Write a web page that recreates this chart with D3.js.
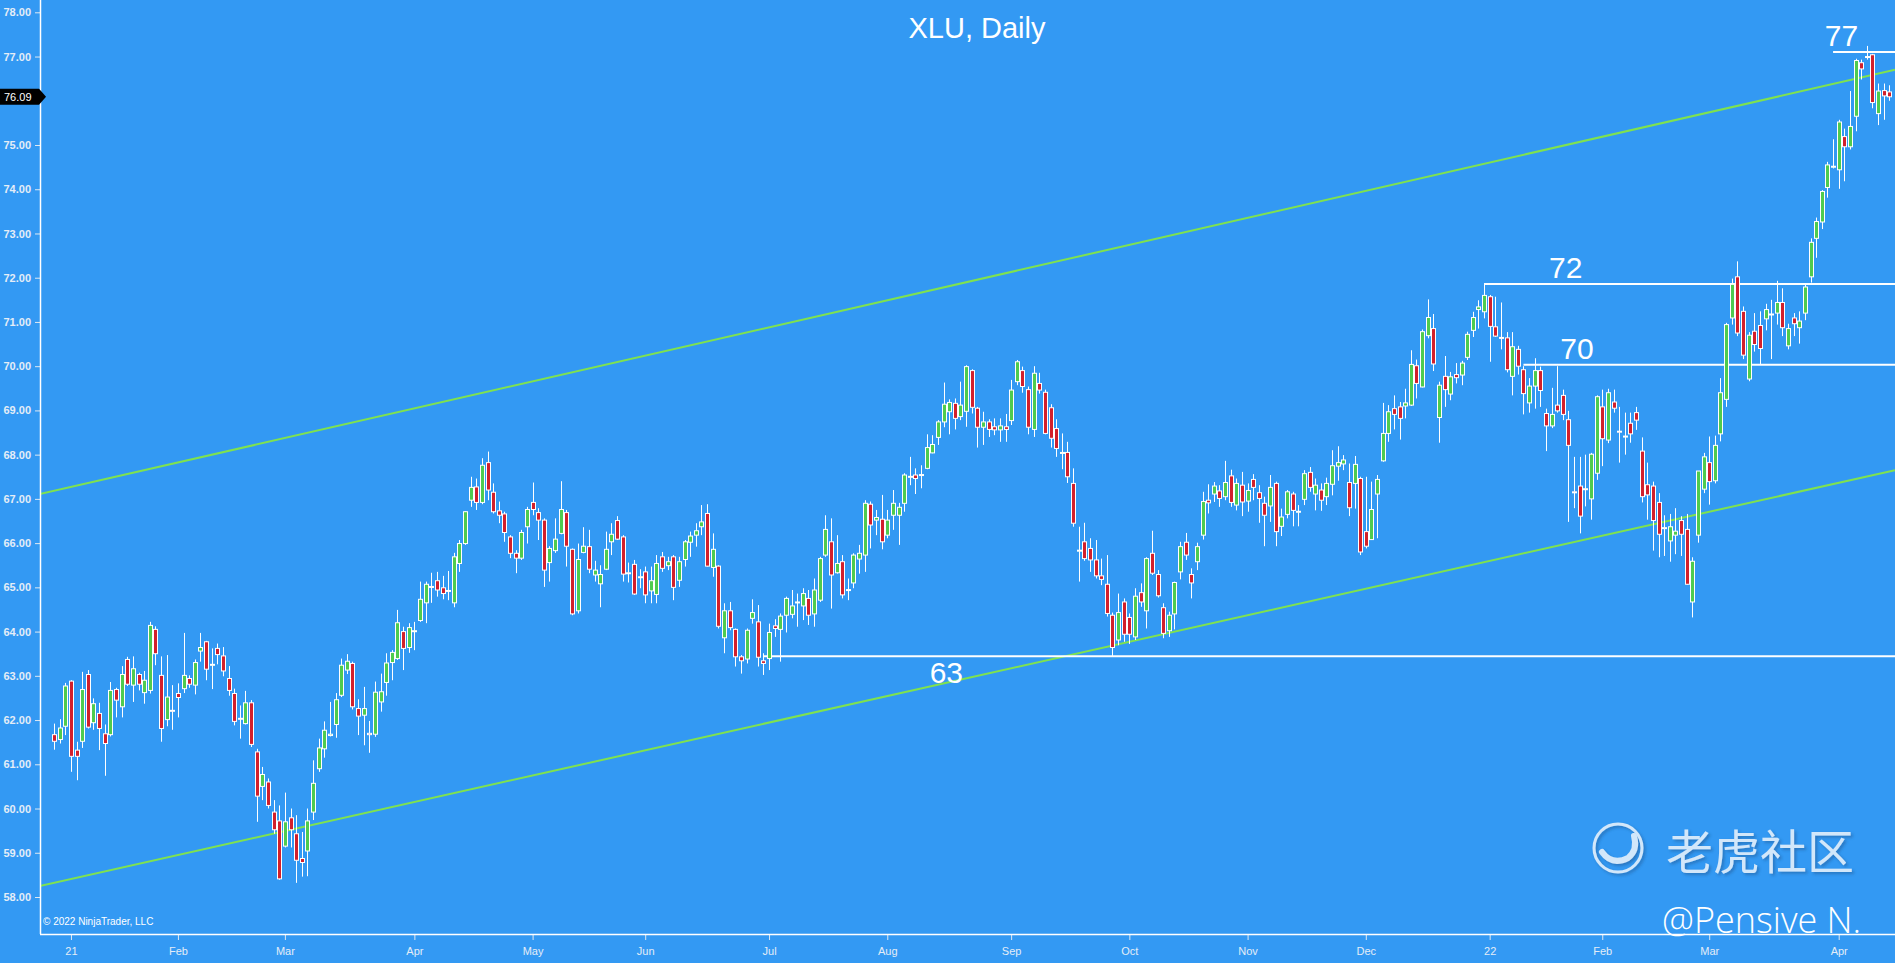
<!doctype html>
<html lang="en">
<head>
<meta charset="utf-8">
<style>
  html, body { margin: 0; padding: 0; background: #3399f3; overflow: hidden; }
  svg { display: block; }
  .ylab { font-family: "Liberation Sans", Arial, sans-serif; font-weight: bold; font-size: 11px; fill: #e4edf7; }
  .xlab { font-family: "Liberation Sans Narrow", "Arial Narrow", "Liberation Sans", sans-serif; font-size: 11px; fill: #e4edf7; }
  .lvl { font-family: "Liberation Sans", Arial, sans-serif; font-size: 30px; fill: #ffffff; }
</style>
</head>
<body>
<script src="https://d3js.org/d3.v7.min.js"></script>
<div id="chart"></div>
<script>
// XLU daily bars, 29 Dec 2020 .. 14 Apr 2022 (one entry per trading day)
var open = [61.67,61.56,61.86,62.88,61.32,61.52,63.03,61.94,62.15,61.69,61.67,62.69,62.30,63.37,62.79,63.03,62.62,62.67,64.05,63.01,
  62.01,62.22,62.60,62.71,62.94,62.79,63.56,63.77,63.24,63.62,63.45,62.94,62.60,62.02,61.92,62.39,61.28,60.50,60.60,59.92,
  59.72,59.15,59.79,59.43,58.87,59.04,59.92,60.90,61.35,61.65,61.90,62.56,63.13,63.28,62.26,62.11,61.70,61.68,62.41,62.85,
  63.30,63.39,64.00,63.64,64.00,64.25,64.65,65.00,65.15,64.99,64.93,64.65,65.54,65.99,66.97,67.27,66.92,67.82,67.15,66.73,
  66.66,66.14,65.77,65.66,66.37,66.92,66.69,66.52,65.56,65.83,66.22,66.69,65.86,64.47,65.79,65.92,65.28,65.08,65.41,66.03,
  66.51,66.14,65.33,65.52,65.22,65.35,64.92,64.84,65.69,65.49,65.69,65.16,65.63,66.02,66.18,66.37,66.67,65.45,65.48,63.86,
  64.47,64.05,63.43,63.38,64.30,64.22,63.34,63.39,64.13,64.05,64.37,64.39,64.65,64.58,64.75,64.40,64.71,65.73,66.03,65.33,
  65.58,64.93,65.10,65.64,65.73,66.88,66.52,66.54,66.18,66.63,66.63,66.90,67.49,67.54,67.53,67.69,68.04,68.39,68.74,68.97,
  69.16,68.86,68.98,69.90,69.05,68.62,68.74,68.63,68.56,68.63,68.77,69.65,69.90,69.47,68.57,69.61,69.41,69.06,68.59,68.03,
  68.05,67.35,65.82,66.03,65.88,65.62,65.26,65.07,64.37,63.81,64.67,64.32,63.88,64.88,64.47,65.77,65.29,64.54,64.02,64.40,
  65.35,66.02,65.29,65.58,66.18,66.97,67.11,67.18,67.05,67.52,66.86,67.31,66.95,67.44,67.14,66.90,66.84,67.35,66.38,66.65,
  67.11,66.70,66.99,67.60,67.11,67.20,67.05,67.33,67.74,67.79,67.37,67.35,67.46,66.26,66.08,67.11,67.86,68.48,69.04,69.08,
  69.10,69.12,70.01,69.53,70.69,70.85,68.84,69.77,69.37,69.81,69.80,70.20,70.81,71.28,71.23,71.57,70.89,70.65,70.64,69.77,
  70.38,69.92,69.17,69.55,69.90,68.93,68.65,69.12,69.34,68.79,67.16,67.29,67.21,67.00,67.58,69.08,68.33,69.19,68.53,68.40,
  68.71,68.95,68.08,67.32,67.29,66.92,66.33,66.05,66.18,66.51,66.31,64.67,66.18,67.22,67.82,67.41,68.47,69.25,71.09,72.02,
  71.24,69.71,70.79,70.92,71.07,71.16,71.20,71.44,70.46,71.09,70.87,71.20,72.02,72.89,73.26,74.04,74.50,74.44,75.19,74.96,
  75.65,76.86,76.98,77.04,75.71,76.23,76.20];
var high = [61.92,62.02,62.84,62.90,61.51,63.09,63.13,62.49,62.39,61.90,62.86,62.73,63.22,63.43,63.44,63.07,63.11,64.22,64.12,63.44,
  63.47,62.79,62.83,63.97,63.01,63.37,63.97,63.79,63.62,63.73,63.65,63.22,62.71,62.33,62.66,62.45,61.35,60.94,60.68,60.19,
  60.07,60.36,60.00,59.85,59.47,60.00,61.09,61.58,61.97,62.41,62.61,63.39,63.49,63.32,62.47,62.75,61.98,62.87,63.05,63.51,
  63.58,64.49,64.11,64.19,64.22,65.13,65.13,65.33,65.35,65.26,65.37,65.78,66.07,66.72,67.50,67.46,67.92,68.07,67.35,66.94,
  66.71,66.18,65.84,66.30,66.82,67.37,66.79,66.56,65.93,66.56,67.40,66.75,65.88,65.99,66.36,66.30,65.60,65.50,66.26,66.45,
  66.61,66.18,65.56,65.62,65.41,65.47,65.47,65.73,65.80,65.69,65.73,65.69,66.07,66.26,66.45,66.86,66.88,66.22,65.50,64.64,
  64.67,64.07,63.47,64.07,64.73,64.60,63.51,64.18,64.28,64.41,64.79,64.94,64.86,64.98,64.94,65.20,65.69,66.63,66.56,66.18,
  65.73,65.20,65.77,65.96,66.97,66.94,66.75,67.09,66.75,67.20,66.91,67.58,67.95,67.69,67.76,68.46,68.44,68.78,69.63,69.25,
  69.27,69.65,70.02,69.93,69.08,68.97,68.80,68.82,68.82,68.92,69.69,70.14,69.99,69.54,70.00,69.85,69.47,69.14,68.80,68.48,
  68.29,67.69,66.37,66.46,66.11,66.07,65.65,65.73,64.43,64.86,64.75,64.41,64.98,65.09,65.68,66.28,65.39,64.64,64.45,65.13,
  66.03,66.23,65.43,66.01,67.16,67.33,67.38,67.31,67.86,67.66,67.46,67.61,67.35,67.56,67.31,67.05,67.54,67.39,66.78,67.20,
  67.16,66.86,67.65,67.72,67.46,67.35,67.48,68.10,68.19,67.99,67.80,67.97,67.50,67.50,67.39,67.54,69.17,69.12,69.34,69.19,
  69.49,70.36,70.15,70.83,71.51,71.18,69.65,70.23,69.87,70.07,70.12,70.78,71.23,71.49,71.87,71.61,71.57,71.44,70.77,70.77,
  70.46,70.00,69.73,70.18,69.99,69.04,69.51,70.00,69.47,68.99,67.95,67.95,68.00,68.04,69.34,69.47,69.49,69.47,69.08,68.95,
  68.95,69.08,68.39,67.82,67.39,67.13,66.63,66.66,66.79,66.61,66.66,65.68,67.63,68.04,68.41,68.43,69.73,70.98,71.98,72.37,
  71.35,70.77,71.20,71.24,71.41,71.50,71.93,71.76,70.96,71.20,71.24,71.85,72.89,73.36,73.98,74.62,75.13,75.57,75.37,76.22,
  76.95,76.93,77.24,77.06,76.39,76.39,76.35];
var low = [61.33,61.47,61.66,60.83,60.64,61.37,61.81,61.78,61.32,60.74,61.63,62.06,62.06,62.77,62.41,62.67,62.37,62.60,63.24,61.51,
  61.86,61.78,62.06,62.61,62.73,62.58,63.32,62.90,62.70,63.26,62.99,62.55,61.88,61.58,61.90,61.39,59.70,60.19,60.00,59.43,
  58.39,59.12,59.12,58.32,58.46,58.47,59.74,60.83,61.15,61.63,61.60,62.52,63.04,62.24,61.66,61.43,61.26,61.62,62.19,62.55,
  62.90,63.36,63.13,63.52,63.58,64.22,64.19,64.65,64.79,64.73,64.71,64.55,65.35,65.96,66.82,66.75,66.88,66.97,66.67,66.45,
  66.03,65.66,65.32,65.62,65.99,66.63,66.07,65.01,65.13,65.78,66.20,65.47,64.37,64.41,65.77,65.32,65.13,64.55,65.39,65.73,
  66.07,65.13,65.11,64.83,64.98,64.64,64.64,64.64,65.35,65.39,64.71,65.01,65.47,65.69,65.92,66.18,65.47,65.24,64.07,63.51,
  64.03,63.21,63.05,63.28,64.18,63.21,63.02,63.13,63.88,63.32,63.98,64.30,64.11,64.26,64.15,64.11,64.67,65.69,64.52,65.31,
  64.75,64.71,64.98,65.31,65.35,65.88,66.18,65.86,66.11,66.30,65.96,66.71,67.31,67.11,67.24,67.67,68.03,68.22,68.62,68.46,
  68.57,68.78,68.63,68.93,68.16,68.22,68.40,68.44,68.29,68.29,68.67,69.57,69.40,68.46,68.40,69.38,68.46,68.16,67.95,67.67,
  67.36,66.37,65.13,65.60,65.35,65.20,65.05,64.34,63.43,63.69,63.77,63.72,63.81,64.56,64.07,65.28,64.77,63.85,63.88,64.05,
  65.18,65.62,64.75,65.39,66.08,66.67,66.93,66.82,66.97,66.82,66.74,66.61,66.71,66.97,66.46,65.93,66.48,65.93,66.16,66.56,
  66.38,66.38,66.86,67.16,66.74,66.73,66.86,67.08,67.41,67.65,66.61,66.78,65.73,65.88,66.07,66.11,67.84,68.29,68.57,68.34,
  68.82,69.10,69.27,69.52,70.63,69.89,68.27,69.08,69.23,69.61,69.57,70.14,70.66,70.85,71.08,70.10,70.66,70.38,69.86,69.34,
  69.81,68.91,68.95,69.04,69.08,68.08,68.60,68.95,68.78,66.48,66.79,66.22,66.83,66.53,67.43,67.74,68.26,68.95,67.82,68.00,
  68.27,68.56,66.92,66.53,65.83,65.68,65.71,65.58,65.75,65.71,65.06,64.32,66.01,67.13,66.87,67.35,68.30,69.08,70.94,70.68,
  70.16,69.66,70.33,70.03,70.81,70.16,70.94,70.68,70.38,70.68,70.51,71.04,71.89,72.45,73.10,73.81,74.47,74.01,74.18,74.90,
  75.31,76.48,76.93,75.83,75.45,75.57,76.00];
var close = [61.52,61.82,62.77,61.18,61.18,62.69,61.84,62.37,61.81,61.47,62.67,62.45,63.03,62.81,63.16,62.81,62.90,64.14,63.50,61.81,
  62.52,62.20,62.51,63.01,62.81,63.30,63.64,63.15,63.26,63.48,63.11,62.67,61.97,62.04,62.39,61.45,60.28,60.77,60.07,59.52,
  58.41,59.70,59.52,58.83,58.78,59.72,60.57,61.37,61.77,61.68,62.46,63.24,63.33,62.30,62.09,62.26,61.67,62.63,62.64,63.29,
  63.53,64.20,63.62,64.09,64.02,64.73,65.07,65.02,64.94,64.86,64.91,65.69,65.99,66.71,67.26,66.92,67.76,67.20,66.71,66.63,
  66.24,65.77,65.66,66.24,66.76,66.76,66.52,65.39,65.88,66.09,66.76,65.93,64.40,65.63,65.93,65.41,65.39,65.29,65.86,66.20,
  66.09,65.30,65.31,64.85,65.24,64.83,65.15,65.54,65.43,65.58,65.00,65.58,66.03,66.16,66.28,66.48,65.48,65.86,64.12,64.47,
  64.09,63.43,63.34,64.03,64.43,63.42,63.28,63.98,64.07,64.35,64.75,64.58,64.67,64.86,64.37,64.94,65.65,66.31,65.28,65.54,
  64.83,64.95,65.73,65.77,66.90,66.41,66.58,66.03,66.52,66.90,66.81,67.54,67.51,67.46,67.55,68.16,68.23,68.74,69.14,69.18,
  68.82,69.12,69.99,69.07,68.62,68.74,68.57,68.56,68.65,68.57,69.46,70.10,69.54,68.62,69.84,69.46,68.48,68.37,68.14,68.05,
  67.50,66.45,65.84,65.65,65.62,65.26,65.18,64.41,63.64,64.43,63.94,63.94,64.80,64.67,65.65,65.32,64.81,63.96,64.37,65.11,
  65.92,65.73,65.10,65.92,66.94,66.91,67.29,67.01,67.37,66.92,67.35,66.93,67.19,67.26,67.01,66.63,67.26,66.26,66.59,67.16,
  66.74,66.72,67.57,67.26,67.31,66.97,67.35,67.75,67.82,67.88,66.80,67.78,65.80,65.93,66.76,67.44,68.48,68.97,68.91,68.82,
  69.17,70.04,69.61,70.78,71.10,70.05,69.57,69.47,69.76,69.74,70.07,70.72,71.10,71.34,71.60,70.90,70.68,70.63,69.92,70.44,
  70.00,69.38,69.55,69.90,69.45,68.65,68.91,68.99,68.91,68.21,67.14,66.61,67.23,68.01,69.31,68.36,69.40,69.05,68.51,68.42,
  68.47,68.78,67.05,67.09,66.51,66.20,66.35,66.37,66.27,66.20,65.07,65.59,67.63,67.95,67.39,68.21,69.40,70.94,71.85,70.75,
  70.25,70.70,70.49,70.40,71.28,71.18,71.44,70.87,70.85,70.96,71.02,71.79,72.80,73.27,73.95,74.55,74.52,75.52,74.96,75.42,
  76.91,76.72,77.00,75.96,76.22,76.11,76.09];

// month ticks: bar index of the first session of each month
var tickIdx = [3, 22, 41, 64, 85, 105, 127, 148, 170, 191, 212, 233, 255, 275, 294, 317];
var tickLabels = ["21", "Feb", "Mar", "Apr", "May", "Jun", "Jul", "Aug", "Sep", "Oct", "Nov", "Dec", "22", "Feb", "Mar", "Apr"];
var lastPrice = 76.09;
// 76.00 sits under the last-price marker, so it is not labelled
var priceTicks = d3.range(58, 79, 1).filter(function(v) { return Math.abs(v - lastPrice) > 0.5; });

// drawn channel (bar index, price) and horizontal levels
var upperChannel = [[-2.5, 67.11], [327, 76.70]];
var lowerChannel = [[-2.5, 58.25], [327, 67.65]];
var levelValues = [63.44, 71.86, 70.03, 77.10];
var levelStart = [126, 254, 261, 316];
var levelLabels = ["63", "72", "70", "77"];
var levelLabelAt = [158.5, 268.5, 270.5, 317.5];
var levelLabelBelow = [true, false, false, false];

var width = 1895, height = 963;
var left = 40, bottom = 934;

var x = d3.scaleLinear().domain([-2.5, 327]).range([left, width]);
var y = d3.scaleLinear().domain([58, 78]).range([897, 12.3]);

var svg = d3.select("#chart").append("svg")
  .attr("width", width).attr("height", height);

svg.append("rect").attr("width", width).attr("height", height).attr("fill", "#3399f3");

var defs = svg.append("defs");
defs.append("clipPath").attr("id", "plot")
  .append("rect").attr("x", left + 1).attr("y", 0).attr("width", width - left).attr("height", bottom);
var shadow = defs.append("filter").attr("id", "shadow").attr("x", "-10%").attr("y", "-20%").attr("width", "130%").attr("height", "150%");
shadow.append("feDropShadow").attr("dx", 2).attr("dy", 2).attr("stdDeviation", 1.5)
  .attr("flood-color", "#1b4f86").attr("flood-opacity", 0.55);

var plot = svg.append("g").attr("clip-path", "url(#plot)");

// title
svg.append("text").attr("x", 977).attr("y", 38).attr("text-anchor", "middle")
  .attr("font-family", "Liberation Sans, Arial, sans-serif").attr("font-size", 29)
  .attr("fill", "#ffffff").text("XLU, Daily");

// channel lines
var line = d3.line().x(function(d) { return x(d[0]); }).y(function(d) { return y(d[1]); });
[upperChannel, lowerChannel].forEach(function(c) {
  plot.append("path").attr("d", line(c)).attr("fill", "none")
    .attr("stroke", "#7fe24f").attr("stroke-width", 2);
});

// horizontal levels
levelValues.forEach(function(v, k) {
  plot.append("line")
    .attr("x1", x(levelStart[k])).attr("x2", width)
    .attr("y1", y(v)).attr("y2", y(v))
    .attr("stroke", "#ffffff").attr("stroke-width", 2);
  svg.append("text").attr("class", "lvl")
    .attr("x", x(levelLabelAt[k])).attr("text-anchor", "middle")
    .attr("y", levelLabelBelow[k] ? y(v) + 27 : y(v) - 6)
    .text(levelLabels[k]);
});

// candles
var bars = d3.range(open.length);
var candles = plot.append("g").selectAll("g").data(bars).enter().append("g");
candles.append("line")
  .attr("x1", function(i) { return Math.round(x(i)) + 0.5; })
  .attr("x2", function(i) { return Math.round(x(i)) + 0.5; })
  .attr("y1", function(i) { return y(high[i]); })
  .attr("y2", function(i) { return y(low[i]); })
  .attr("stroke", "#ffffff").attr("stroke-width", 1);
candles.append("rect")
  .attr("x", function(i) { return Math.round(x(i)) - 1.5; })
  .attr("width", 4)
  .attr("y", function(i) { return y(Math.max(open[i], close[i])); })
  .attr("height", function(i) { return Math.max(1, Math.abs(y(open[i]) - y(close[i]))); })
  .attr("fill", function(i) { return close[i] >= open[i] ? "#4fcb4f" : "#d1202c"; })
  .attr("stroke", "#ffffff").attr("stroke-width", 1);

// axes
var yAxis = d3.axisLeft(y).tickValues(priceTicks).tickSize(5).tickPadding(4)
  .tickFormat(d3.format(".2f"));
var gy = svg.append("g").attr("transform", "translate(" + left + ",0)").call(yAxis);
gy.select(".domain").remove();
gy.selectAll(".tick line").attr("stroke", "#dfe8f2");
gy.selectAll(".tick text").attr("class", "ylab").attr("fill", null)
  .attr("font-family", null).attr("font-size", null);

var xAxis = d3.axisBottom(x).tickValues(tickIdx).tickSize(6).tickPadding(7)
  .tickFormat(function(d, k) { return tickLabels[k]; });
var gx = svg.append("g").attr("transform", "translate(0," + bottom + ")").call(xAxis);
gx.select(".domain").remove();
gx.selectAll(".tick line").attr("stroke", "#dfe8f2");
gx.selectAll(".tick text").attr("class", "xlab").attr("fill", null)
  .attr("font-family", null).attr("font-size", null);

svg.append("line").attr("x1", left + 0.5).attr("x2", left + 0.5).attr("y1", 0).attr("y2", bottom)
  .attr("stroke", "#ffffff").attr("stroke-width", 1.5);
svg.append("line").attr("x1", left).attr("x2", width).attr("y1", bottom + 0.5).attr("y2", bottom + 0.5)
  .attr("stroke", "#ffffff").attr("stroke-width", 1.5);

// last price marker
var py = y(lastPrice);
svg.append("path")
  .attr("d", "M0," + (py - 8) + "H39L46," + py + "L39," + (py + 8) + "H0Z")
  .attr("fill", "#000000");
svg.append("text").attr("x", 4).attr("y", py + 4)
  .attr("font-family", "Liberation Sans, Arial, sans-serif").attr("font-size", 11)
  .attr("fill", "#ffffff").text(d3.format(".2f")(lastPrice));

// copyright
svg.append("text").attr("x", 43).attr("y", 925)
  .attr("font-family", "Liberation Sans Narrow, Arial Narrow, Liberation Sans, sans-serif")
  .attr("font-size", 10).attr("fill", "#ffffff").text("\u00a9 2022 NinjaTrader, LLC");

// watermark
var wm = svg.append("g").attr("opacity", 0.85).attr("filter", "url(#shadow)");
wm.append("circle").attr("cx", 1618).attr("cy", 848).attr("r", 24)
  .attr("fill", "none").attr("stroke", "#eef5fc").attr("stroke-width", 3);
wm.append("path")
  .attr("d", "M1602,852 Q1612,866 1628,858 Q1638,850 1634,836")
  .attr("fill", "none").attr("stroke", "#eef5fc").attr("stroke-width", 6).attr("stroke-linecap", "round");
wm.append("text").attr("x", 1666).attr("y", 869)
  .attr("font-family", "Noto Sans CJK SC, sans-serif").attr("font-size", 47)
  .attr("fill", "#eef5fc").text("老虎社区");
svg.append("text").attr("x", 1662).attr("y", 933)
  .attr("font-family", "Open Sans, sans-serif").attr("font-weight", 300).attr("font-size", 36)
  .attr("fill", "#ffffff").text("@Pensive N.");
</script>
</body>
</html>
